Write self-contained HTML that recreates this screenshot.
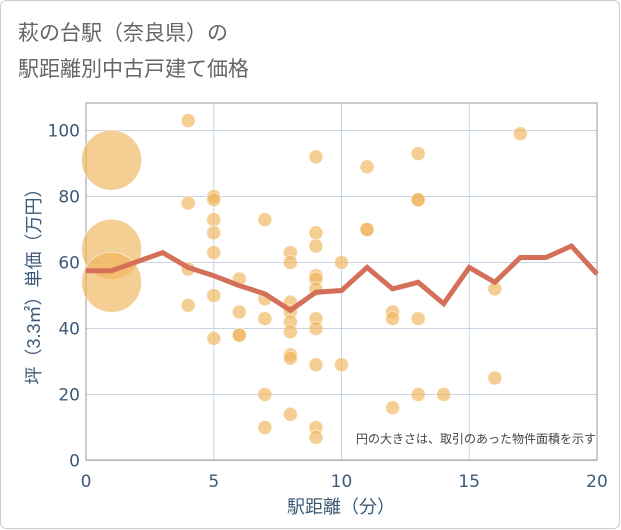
<!DOCTYPE html>
<html><head><meta charset="utf-8"><style>
body{margin:0;background:#fff}
svg{display:block;font-family:"Liberation Sans","Noto Sans CJK JP",sans-serif}
.tk{font-family:"DejaVu Sans","Liberation Sans",sans-serif}
</style></head><body>
<svg width="621" height="530">
<rect x="0.5" y="0.5" width="619" height="528" rx="6" fill="#fff" stroke="#ccc"/>
<text x="18" y="40" font-size="21" fill="#666">萩の台駅（奈良県）の</text>
<text x="18" y="76" font-size="21" fill="#666">駅距離別中古戸建て価格</text>
<g id="grid"></g>
<rect x="86" y="103" width="511" height="357" fill="none" stroke="#999"/>
<g id="pts"></g>
<g id="line"></g>
<g id="axes"></g>
<text x="596" y="443" font-size="12" fill="#444" text-anchor="end">円の大きさは、取引のあった物件面積を示す</text>
<text x="341" y="513" font-size="18" fill="#3d5a78" text-anchor="middle">駅距離（分）</text>
<text transform="translate(40,282) rotate(-90)" font-size="18" fill="#3d5a78" text-anchor="middle">坪（3.3㎡）単価（万円）</text>
</svg>
<script>
const xTicks=[0,5,10,15,20];
const yTicks=[0,20,40,60,80,100];
const ptX=[1,1,1,4,4,4,4,5,5,5,5,5,5,5,6,6,6,6,7,7,7,7,7,8,8,8,8,8,8,8,8,8,9,9,9,9,9,9,9,9,9,9,9,10,10,11,11,11,12,12,12,13,13,13,13,13,14,16,16,17];
const ptY=[91,64,54,103,78,58,47,80,79,73,69,63,50,37,55,45,38,38,73,49,43,20,10,63,60,48,45,42,39,32,31,14,92,69,65,56,55,52,43,40,29,10,7,60,29,89,70,70,45,43,16,93,79,79,43,20,20,52,25,99];
const ptR=[30,30,30,7,7,7,7,7,7,7,7,7,7,7,7,7,7,7,7,7,7,7,7,7,7,7,7,7,7,7,7,7,7,7,7,7,7,7,7,7,7,7,7,7,7,7,7,7,7,7,7,7,7,7,7,7,7,7,7,7];
const lineX=[0,1,3,4,5,6,7,8,9,10,11,12,13,14,15,16,17,18,19,20];
const lineY=[57.5,57.5,63,58.5,56,53,50.5,45.5,51,51.5,58.5,52,54,47.5,58.5,54,61.5,61.5,65,56.5];
const NS='http://www.w3.org/2000/svg';
const sx=v=>86+v*25.55, sy=v=>460.5-v*3.3;
function mk(t,a,p){const e=document.createElementNS(NS,t);for(const k in a)e.setAttribute(k,a[k]);p.appendChild(e);return e;}
const g=document.getElementById('grid'),ax=document.getElementById('axes');
xTicks.forEach(v=>{
 const l=mk('line',{x1:sx(v),x2:sx(v),y1:103,y2:460,stroke:'#c8d4e3'},g);
 
 
 const t=mk('text',{x:sx(v),y:487,'font-size':17,fill:'#3d5a78','text-anchor':'middle','class':'tk'},ax);t.textContent=v;
 
 
});
yTicks.forEach(v=>{
 const l=mk('line',{x1:86,x2:597,y1:sy(v),y2:sy(v),stroke:'#c8d4e3'},g);
 
 
 const t=mk('text',{x:80,y:sy(v)+6,'font-size':17,fill:'#3d5a78','text-anchor':'end','class':'tk'},ax);t.textContent=v;
 
 
});
const pg=document.getElementById('pts');
ptX.forEach((x,i)=>{
 const c=mk('circle',{cx:sx(x),cy:sy(ptY[i]),r:ptR[i],fill:'#f0b35a','fill-opacity':0.65,stroke:'#fff','stroke-opacity':0.5,'stroke-width':1},pg);
 
 
});
const p=mk('polyline',{points:lineX.map((x,i)=>sx(x)+','+sy(lineY[i])).join(' '),fill:'none',stroke:'#d4705a','stroke-width':5,'stroke-linejoin':'miter'},document.getElementById('line'));


</script>
</body></html>
